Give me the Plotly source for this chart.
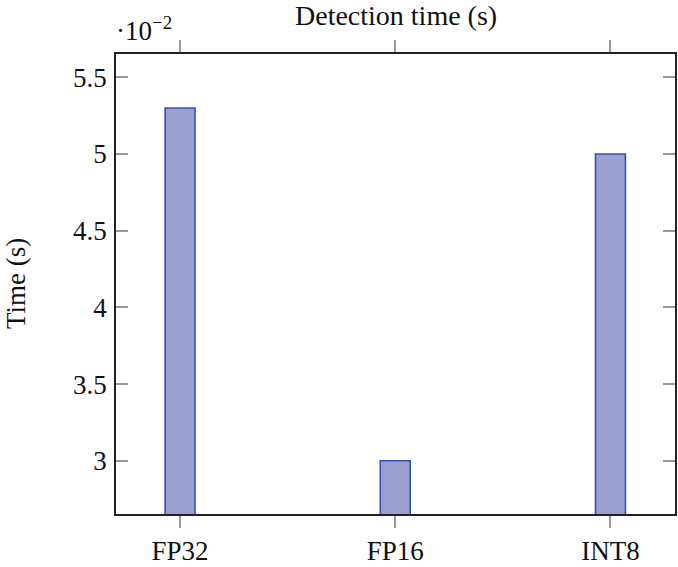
import plotly.graph_objects as go

categories = ["FP32", "FP16", "INT8"]
times = [5.3, 3.0, 5.0]  # in units of 10^-2 s
y_tick_vals = [3, 3.5, 4, 4.5, 5, 5.5]
y_tick_text = ["3", "3.5", "4", "4.5", "5", "5.5"]

FONT = "Liberation Serif"
TXT = "#111111"
FS = 27

fig = go.Figure()
fig.add_trace(go.Bar(
    x=[0, 1, 2],
    y=times,
    width=0.139,
    marker=dict(color="#9aa1d2", line=dict(color="#3350b0", width=1.6)),
    hoverinfo="skip",
))

fig.update_layout(
    width=678, height=567,
    margin=dict(l=116, r=1, t=54, b=46),
    plot_bgcolor="white", paper_bgcolor="white",
    showlegend=False,
    font=dict(family=FONT, size=FS, color=TXT),
    xaxis=dict(
        range=[-0.2977, 2.30],
        tickvals=[0, 1, 2], ticktext=categories,
        ticks="outside", ticklen=12, tickcolor="#999999", tickwidth=1.5,
        showline=True, linecolor="#222222", linewidth=1.5, mirror="ticks",
        showgrid=False, zeroline=False,
        tickfont=dict(family=FONT, size=FS, color=TXT),
    ),
    yaxis=dict(
        range=[2.653, 5.652],
        tickvals=y_tick_vals, ticktext=y_tick_text,
        ticks="inside", ticklen=12, tickcolor="#999999", tickwidth=1.5,
        ticklabelstandoff=2,
        showline=True, linecolor="#222222", linewidth=1.5, mirror="ticks",
        showgrid=False, zeroline=False,
        tickfont=dict(family=FONT, size=FS, color=TXT),
    ),
)

# top title
fig.add_annotation(
    x=0.5, xref="paper", xanchor="center",
    y=1, yref="paper", yanchor="middle", yshift=39,
    text="Detection time (s)", showarrow=False,
    font=dict(family=FONT, size=28, color=TXT),
)
# y-axis title
fig.add_annotation(
    x=0, xref="paper", xanchor="center", xshift=-100,
    y=0.5, yref="paper", yanchor="middle",
    text="Time (s)", textangle=-90, showarrow=False,
    font=dict(family=FONT, size=FS, color=TXT),
)
# scale factor
fig.add_annotation(
    x=0, xref="paper", xanchor="left", xshift=-2,
    y=1, yref="paper", yanchor="bottom", yshift=6,
    text="·10<sup>−2</sup>", showarrow=False,
    font=dict(family=FONT, size=27, color=TXT),
)

# remove the browser's default 8px body margin so the figure fills the window
fig.write_html("out.html", config={"displayModeBar": False},
               post_script="document.body.style.margin='0';")
